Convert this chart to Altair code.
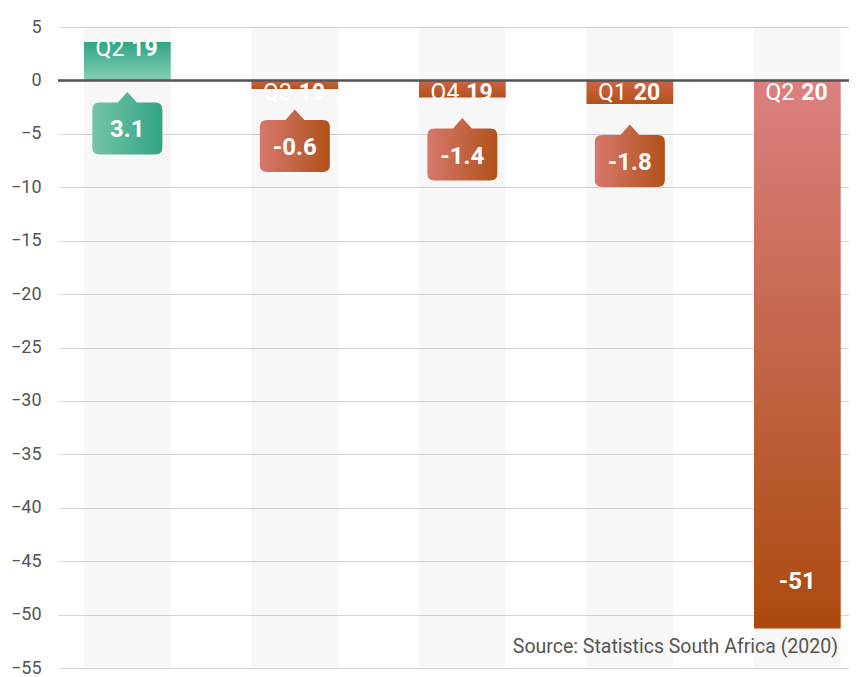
import altair as alt
import pandas as pd

# ---- data ----
quarters = ["Q2", "Q3", "Q4", "Q1", "Q2"]
years = ["19", "19", "19", "20", "20"]
bar_values = [3.6, -0.8, -1.6, -2.2, -51.3]
value_labels = ["3.1", "-0.6", "-1.4", "-1.8", "-51"]
y_ticks = [5, 0, -5, -10, -15, -20, -25, -30, -35, -40, -45, -50, -55]
source_text = "Source: Statistics South Africa (2020)"

periods = [q + " " + y for q, y in zip(quarters, years)]
df = pd.DataFrame({
    "period": periods,
    "quarter": quarters,
    "year": years,
    "value": bar_values,
    "label": value_labels,
    "top": [5] * len(periods),
    "bottom": [-55] * len(periods),
    "zero": [0] * len(periods),
})

FONT = "Roboto"
W, H = 791, 641

xenc = alt.X("period:N", sort=periods,
             scale=alt.Scale(paddingInner=0.4824, paddingOuter=0.1024, align=0.758),
             axis=None)
yscale = alt.Scale(domain=[-55, 5], nice=False)
yaxis = alt.Axis(values=y_ticks, grid=True, gridColor="#d6d6d6", gridWidth=1,
                 domain=False, ticks=False, labelPadding=17, labelFontSize=18,
                 labelColor="#555555", labelFont=FONT, title=None)

base = alt.Chart(df).transform_calculate(base="min(datum.value, 0)")

def vgrad(c0, c1):
    return alt.LinearGradient(gradient="linear", x1=0, y1=0, x2=0, y2=1,
                              stops=[alt.GradientStop(offset=0, color=c0),
                                     alt.GradientStop(offset=1, color=c1)])

def hgrad(c0, c1):
    return alt.LinearGradient(gradient="linear", x1=0, y1=0, x2=1, y2=0,
                              stops=[alt.GradientStop(offset=0, color=c0),
                                     alt.GradientStop(offset=1, color=c1)])

green_v = vgrad("#2fa585", "#86cfb5")
red_big_v = vgrad("#db8080", "#ab4a0e")
red_small_v = vgrad("#cc6446", "#b3521a")
green_h = hgrad("#74c4a8", "#31a584")
red_h = hgrad("#d6786c", "#b1511a")

callout_path = ("M -0.8 -0.743 L -0.27 -0.743 L 0 -1.043 L 0.27 -0.743 L 0.8 -0.743 "
                "Q 1 -0.743 1 -0.543 L 1 0.543 Q 1 0.743 0.8 0.743 L -0.8 0.743 "
                "Q -1 0.743 -1 0.543 L -1 -0.543 Q -1 -0.743 -0.8 -0.743 Z")

bands = base.mark_bar(color="black", opacity=0.032).encode(
    x=xenc, y=alt.Y("top:Q", scale=yscale, axis=yaxis), y2="bottom:Q")

bar_pos = base.transform_filter("datum.value > 0").mark_bar(color=green_v).encode(
    x=xenc, y=alt.Y("value:Q", scale=yscale), y2="zero:Q")
bar_small = base.transform_filter("datum.value < 0 && datum.value > -10").mark_bar(color=red_small_v).encode(
    x=xenc, y=alt.Y("zero:Q", scale=yscale), y2="value:Q")
bar_big = base.transform_filter("datum.value <= -10").mark_bar(color=red_big_v).encode(
    x=xenc, y=alt.Y("zero:Q", scale=yscale), y2="value:Q")

zero_rule = base.mark_rule(color="#555555", strokeWidth=1.5).encode(
    y=alt.Y("zero:Q", scale=yscale))

def bar_labels(filt, field, off):
    q = base.transform_filter(filt).mark_text(
        font=FONT, fontSize=23, color="white", align="right", baseline="middle",
        dx=-3, yOffset=off).encode(x=xenc, y=alt.Y(field, scale=yscale), text="quarter:N")
    yy = base.transform_filter(filt).mark_text(
        font=FONT, fontSize=23, fontWeight="bold", color="white", align="left",
        baseline="middle", dx=4, yOffset=off).encode(
        x=xenc, y=alt.Y(field, scale=yscale), text="year:N")
    return [q, yy]

lbl_pos = bar_labels("datum.value > 0", "value:Q", 7)
lbl_neg = bar_labels("datum.value < 0", "zero:Q", 13)

call_pos = base.transform_filter("datum.value > 0").mark_point(
    shape=callout_path, size=4900, filled=True, fill=green_h, opacity=1, strokeWidth=0,
    yOffset=48).encode(x=xenc, y=alt.Y("base:Q", scale=yscale))
call_neg = base.transform_filter("datum.value < 0 && datum.value > -10").mark_point(
    shape=callout_path, size=4900, filled=True, fill=red_h, opacity=1, strokeWidth=0,
    yOffset=57).encode(x=xenc, y=alt.Y("base:Q", scale=yscale))

txt_pos = base.transform_filter("datum.value > 0").mark_text(
    font=FONT, fontSize=24, fontWeight="bold", color="white", baseline="middle",
    yOffset=50).encode(x=xenc, y=alt.Y("base:Q", scale=yscale), text="label:N")
txt_neg = base.transform_filter("datum.value < 0 && datum.value > -10").mark_text(
    font=FONT, fontSize=24, fontWeight="bold", color="white", baseline="middle",
    yOffset=59).encode(x=xenc, y=alt.Y("base:Q", scale=yscale), text="label:N")
txt_big = base.transform_filter("datum.value <= -10").mark_text(
    font=FONT, fontSize=24, fontWeight="bold", color="white", baseline="middle",
    yOffset=-46).encode(x=xenc, y=alt.Y("value:Q", scale=yscale), text="label:N")

source = alt.Chart(pd.DataFrame({"t": [source_text]})).mark_text(
    font=FONT, fontSize=19.5, color="#555555", align="right", baseline="middle").encode(
    text="t:N", x=alt.value(780), y=alt.value(620))

chart = alt.layer(
    bands, bar_pos, bar_small, bar_big, zero_rule,
    *lbl_pos, *lbl_neg, call_pos, call_neg, txt_pos, txt_neg, txt_big, source
).properties(
    width=W, height=H,
    padding={"left": 50, "top": 19, "right": 0, "bottom": 9},
    autosize=alt.AutoSizeParams(type="none"),
).configure_view(stroke=None)

chart.save("out.html", embed_options={"renderer": "svg", "actions": False})
